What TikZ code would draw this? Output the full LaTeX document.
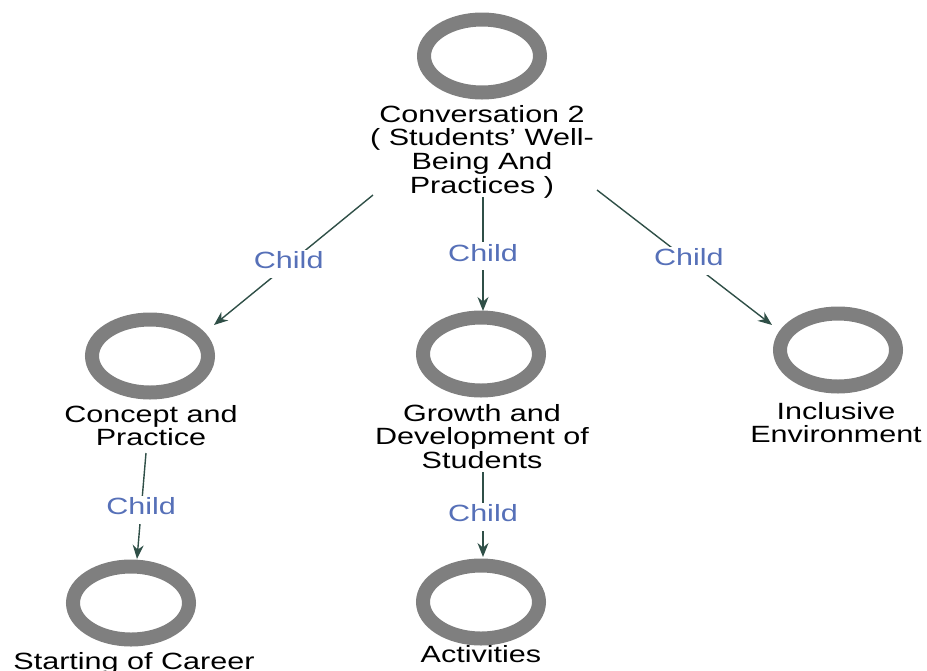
\documentclass[tikz,border=0pt]{standalone}
\usepackage{fontspec}
\setmainfont{Liberation Sans}
\usetikzlibrary{shapes.geometric,arrows.meta}
\definecolor{ringgray}{HTML}{7F7F7F}
\definecolor{linkgreen}{HTML}{2F4F47}
\definecolor{childblue}{HTML}{5670B8}
% captions are set slightly wide; the node's base is the first line's baseline
\newcommand\widetext[1]{\scalebox{1.3}[1]{\begin{tabular}[t]{@{}c@{}}#1\end{tabular}}}

\begin{document}
\begin{tikzpicture}[x=1pt,y=-1pt,
  ring/.style={ellipse, draw=ringgray, line width=14pt, minimum width=116pt, minimum height=73pt, inner sep=0pt},
  caption/.style={inner sep=0pt, anchor=base, font=\fontsize{23.5}{23.2}\selectfont},
  link/.style={draw=linkgreen, line width=1.4pt, -{Stealth[length=14pt,width=11pt]}},
  tag/.style={fill=white, text=childblue, inner sep=2pt, font=\fontsize{23.5}{23.2}\selectfont}]
\useasboundingbox (0,0) rectangle (927,670);

% topics
\node[ring] (conv) at (482,56) {};
\node[caption] (convT) at (482,122) {\widetext{Conversation 2\\( Students' Well-\\Being And\\Practices )}};

\node[ring] (concept) at (150,356) {};
\node[caption] (conceptT) at (151,422) {\widetext{Concept and\\Practice}};

\node[ring] (growth) at (481,354) {};
\node[caption] (growthT) at (482,421) {\widetext{Growth and\\Development of\\Students}};

\node[ring] (incl) at (838,350) {};
\node[caption] (inclT) at (836,419) {\widetext{Inclusive\\Environment}};

\node[ring] (start) at (131,603) {};
\node[caption] (startT) at (134,669) {\widetext{Starting of Career}};

\node[ring] (act) at (481,602) {};
\node[caption] (actT) at (481,662) {\widetext{Activities}};

% connector end points
\coordinate (a1) at (373,195);  \coordinate (b1) at (214,325);
\coordinate (a2) at (483,197);  \coordinate (b2) at (483,311);
\coordinate (a3) at (597,190);  \coordinate (b3) at (772,325);
\coordinate (a4) at (146,453);  \coordinate (b4) at (137,559);
\coordinate (a5) at (483,472);  \coordinate (b5) at (483,557);

% child links
\draw[link] (a1) -- node[tag, pos=0.53] (t1) {\widetext{Child}} (b1);
\draw[link] (a2) -- node[tag, pos=0.52] (t2) {\widetext{Child}} (b2);
\draw[link] (a3) -- node[tag, pos=0.525] (t3) {\widetext{Child}} (b3);
\draw[link] (a4) -- node[tag, pos=0.535] (t4) {\widetext{Child}} (b4);
\draw[link] (a5) -- node[tag, pos=0.525] (t5) {\widetext{Child}} (b5);
\end{tikzpicture}
\end{document}
